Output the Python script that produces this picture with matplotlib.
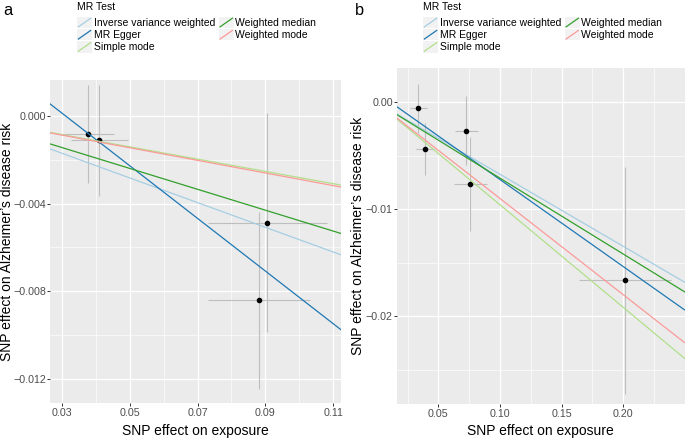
import numpy as np
import matplotlib
matplotlib.use('Agg')
import matplotlib.pyplot as plt
from matplotlib.lines import Line2D
from matplotlib.patches import Rectangle
from matplotlib.legend_handler import HandlerBase
from matplotlib.ticker import FixedLocator, FuncFormatter

plt.rcParams['font.family'] = ['Liberation Sans', 'DejaVu Sans']

# MR methods (legend order) and colours
methods = ['Inverse variance weighted', 'MR Egger', 'Simple mode',
           'Weighted median', 'Weighted mode']
colors = ['#A6CEE3', '#1F78B4', '#B2DF8A', '#33A02C', '#FB9A99']

# panel a: SNP effects and standard errors
exp_a = [0.0378, 0.0411, 0.0905, 0.0881]
se_exp_a = [0.0075, 0.0083, 0.0175, 0.0150]
out_a = [-0.00082, -0.00111, -0.00487, -0.00842]
se_out_a = [0.00224, 0.00253, 0.00502, 0.00405]
# slopes per method, MR Egger also has an intercept
slope_a = [-0.0565, -0.1205, -0.0281, -0.0478, -0.0289]
icpt_a = [0.0, 0.00376, 0.0, 0.0, 0.0]

# panel b
exp_b = [0.0338, 0.0390, 0.0727, 0.0760, 0.2015]
se_exp_b = [0.0068, 0.0074, 0.0092, 0.0131, 0.0374]
out_b = [-0.00056, -0.00434, -0.00265, -0.00766, -0.01665]
se_out_b = [0.00228, 0.00244, 0.00323, 0.00437, 0.01060]
slope_b = [-0.0673, -0.0813, -0.0958, -0.0709, -0.0899]
icpt_b = [0.0, 0.00091, 0.0, 0.0, 0.0]

W, H = 685, 441
fig = plt.figure(figsize=(W / 100, H / 100), dpi=100)


def fmt(decimals):
    def f(v, pos):
        s = '%.*f' % (decimals, v)
        if float(s) == 0:
            s = s.lstrip('-')
        return s.replace('-', '\u2212')
    return FuncFormatter(f)


def panel(rect, exp, se_exp, out, se_out, slopes, icpts, xlim, ylim,
          xmaj, xmin, ymaj, ymin, xdec, ydec, ylab_x):
    ax = fig.add_axes(rect)
    ax.set_facecolor('#EBEBEB')
    for s in ax.spines.values():
        s.set_visible(False)
    ax.set_xlim(xlim)
    ax.set_ylim(ylim)
    ax.xaxis.set_major_locator(FixedLocator(xmaj))
    ax.xaxis.set_minor_locator(FixedLocator(xmin))
    ax.yaxis.set_major_locator(FixedLocator(ymaj))
    ax.yaxis.set_minor_locator(FixedLocator(ymin))
    ax.xaxis.set_major_formatter(fmt(xdec))
    ax.yaxis.set_major_formatter(fmt(ydec))
    ax.grid(True, which='major', color='white', lw=0.9)
    ax.grid(True, which='minor', color='white', lw=0.45)
    ax.set_axisbelow(True)
    ax.tick_params(which='major', length=2, width=0.7, color='#333333',
                   labelsize=7.7, labelcolor='#4D4D4D')
    ax.tick_params(axis='x', pad=1.5)
    ax.tick_params(axis='y', pad=0.8)
    ax.tick_params(which='minor', length=0)

    ax.errorbar(exp, out, yerr=se_out, fmt='none', ecolor='#BEBEBE',
                elinewidth=0.8, capsize=0, zorder=2)
    ax.errorbar(exp, out, xerr=se_exp, fmt='none', ecolor='#BEBEBE',
                elinewidth=0.8, capsize=0, zorder=2)
    ax.plot(exp, out, 'o', color='black', ms=3, zorder=3)
    xs = np.array(xlim)
    for sl, ic, c in zip(slopes, icpts, colors):
        ax.plot(xs, ic + sl * xs, color=c, lw=0.9, zorder=4)
    ax.set_xlabel('SNP effect on exposure', fontsize=10, labelpad=4)
    # y label placed in figure pixels, centred on the panel
    x0, y0, w, h = rect
    fig.text(ylab_x / W, y0 + h / 2, 'SNP effect on Alzheimer\u2019s disease risk',
             fontsize=10, rotation=90, ha='center', va='center')
    return ax


class AblineHandler(HandlerBase):
    def create_artists(self, legend, orig_handle, xdescent, ydescent,
                       width, height, fontsize, trans):
        x0, y0 = -xdescent, -ydescent
        bg = Rectangle((x0, y0), width, height, facecolor='#F2F2F2',
                       edgecolor='none', transform=trans)
        ln = Line2D([x0 + 1, x0 + width - 1], [y0 + 1, y0 + height - 1],
                    color=orig_handle.get_color(), lw=0.9, transform=trans)
        return [bg, ln]


def legend(x_px):
    handles = [Line2D([], [], color=c) for c in colors]
    leg = fig.legend(handles, methods, title='MR Test', ncol=2,
                     loc='upper left', bbox_to_anchor=(x_px / W, 1 - 2 / H),
                     frameon=False, handler_map={Line2D: AblineHandler()},
                     fontsize=7.5, title_fontsize=7.5, handlelength=1.45,
                     handleheight=1.3, labelspacing=0.08, handletextpad=0.15,
                     columnspacing=0.35, borderpad=0, borderaxespad=0)
    leg._legend_box.align = 'left'
    leg._legend_box.sep = 3.5
    return leg


ax_a = panel([50 / W, 1 - 403.3 / H, 291 / W, 323.3 / H],
             exp_a, se_exp_a, out_a, se_out_a, slope_a, icpt_a,
             (0.02656, 0.11226), (-0.01313, 0.00165),
             [0.03, 0.05, 0.07, 0.09, 0.11], [0.04, 0.06, 0.08, 0.10],
             [0.0, -0.004, -0.008, -0.012], [-0.002, -0.006, -0.010],
             2, 3, 7)
ax_b = panel([396.7 / W, 1 - 404 / H, 287.8 / W, 336 / H],
             exp_b, se_exp_b, out_b, se_out_b, slope_b, icpt_b,
             (0.0162, 0.2498), (-0.0282, 0.0032),
             [0.05, 0.10, 0.15, 0.20], [0.025, 0.075, 0.125, 0.175, 0.225],
             [0.0, -0.01, -0.02], [-0.005, -0.015, -0.025],
             2, 2, 357.5)

legend(77)
legend(423)

fig.text(3 / W, 1 - 15 / H, 'a', fontsize=11.7, va='baseline')
fig.text(355 / W, 1 - 15 / H, 'b', fontsize=11.7, va='baseline')

fig.savefig('out.png', dpi=100)
